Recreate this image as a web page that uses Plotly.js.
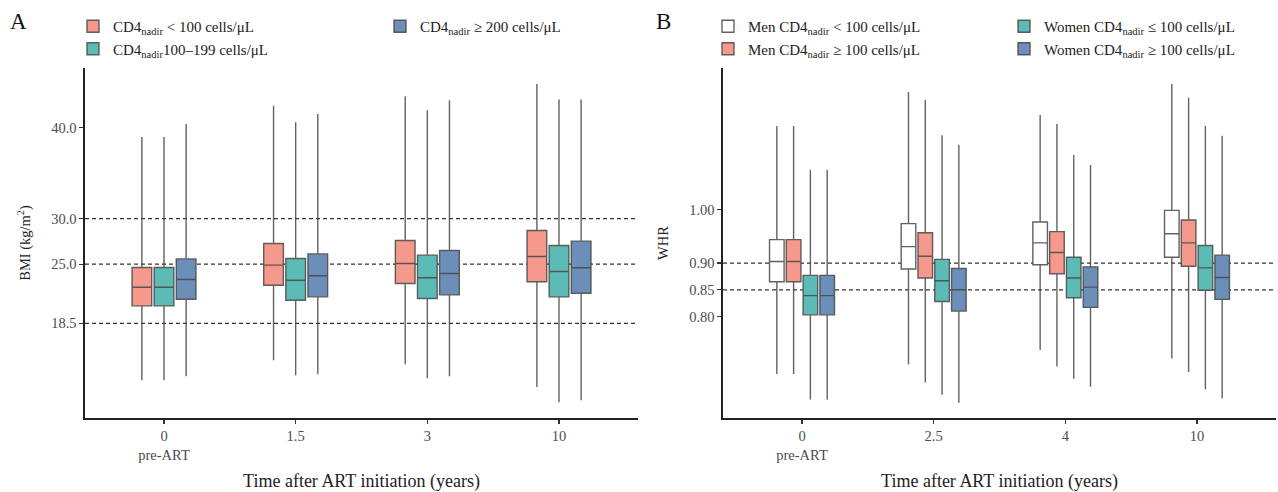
<!DOCTYPE html>
<html>
<head>
<meta charset="utf-8">
<script src="https://cdn.plot.ly/plotly-3.0.1.min.js"></script>
<style>
html,body{margin:0;padding:0;background:#fff;}
#wrap{position:relative;width:1278px;height:492px;}
.panel{position:absolute;left:0;top:0;width:1278px;height:492px;}
</style>
</head>
<body>
<div id="wrap">
  <div id="panelA" class="panel"></div>
  <div id="panelB" class="panel"></div>
</div>
<script>
// ---------- Data ----------
// Panel A: BMI by time after ART initiation
const timesA = ['0', '1.5', '3', '10'];
const tickTextA = ['0<br>pre-ART', '1.5', '3', '10'];
const bmiTicks = [18.5, 25, 30, 40];
const bmiRefLines = [18.5, 25, 30];

const bmiLt100 = { lo: [12.25, 14.45, 14.0, 11.5], q1: [20.42, 22.69, 22.88, 23.06], med: [22.47, 24.89, 25.07, 25.84], q3: [24.64, 27.27, 27.6, 28.7], hi: [38.96, 42.4, 43.46, 44.8] };
const bmi100to199 = { lo: [12.25, 12.8, 12.47, 9.84], q1: [20.42, 21.04, 21.23, 21.41], med: [22.47, 23.24, 23.5, 24.2], q3: [24.64, 25.62, 25.99, 27.05], hi: [38.96, 40.6, 41.9, 43.1] };
const bmiGe200 = { lo: [12.7, 12.9, 12.7, 10.05], q1: [21.15, 21.41, 21.63, 21.81], med: [23.32, 23.72, 23.98, 24.6], q3: [25.58, 26.13, 26.5, 27.53], hi: [40.4, 41.5, 43.0, 43.1] };

// Panel B: WHR by time after ART initiation
const timesB = ['0', '2.5', '4', '10'];
const tickTextB = ['0<br>pre-ART', '2.5', '4', '10'];
const whrTicks = [0.80, 0.85, 0.90, 1.00];
const whrRefLines = [0.85, 0.90];

const whrMenLt100 = { lo: [0.692, 0.71, 0.737, 0.721], q1: [0.865, 0.889, 0.897, 0.911], med: [0.903, 0.931, 0.938, 0.955], q3: [0.944, 0.974, 0.977, 0.999], hi: [1.157, 1.221, 1.178, 1.236] };
const whrMenGe100 = { lo: [0.692, 0.676, 0.706, 0.696], q1: [0.865, 0.872, 0.880, 0.894], med: [0.903, 0.913, 0.920, 0.938], q3: [0.944, 0.957, 0.959, 0.981], hi: [1.157, 1.206, 1.161, 1.21] };
const whrWomenLe100 = { lo: [0.644, 0.653, 0.683, 0.663], q1: [0.803, 0.828, 0.835, 0.849], med: [0.839, 0.867, 0.872, 0.891], q3: [0.877, 0.907, 0.911, 0.933], hi: [1.075, 1.14, 1.103, 1.157] };
const whrWomenGe100 = { lo: [0.644, 0.638, 0.668, 0.646], q1: [0.803, 0.810, 0.817, 0.832], med: [0.839, 0.850, 0.855, 0.873], q3: [0.877, 0.890, 0.893, 0.915], hi: [1.075, 1.122, 1.084, 1.139] };

// ---------- Styling ----------
const SERIF = '"Liberation Serif", "DejaVu Serif", serif';
const SALMON = '#F4998C';
const TEAL = '#5DBBB6';
const BLUE = '#6C8FBA';
const WHITE = '#FFFFFF';
const LINE = 'rgba(70,70,70,0.85)';

function boxTrace(x, s, name, fill, legend, rank) {
  return {
    type: 'box',
    x: x,
    q1: s.q1, median: s.med, q3: s.q3,
    lowerfence: s.lo, upperfence: s.hi,
    name: name,
    fillcolor: fill,
    line: { color: LINE, width: 1.4 },
    whiskerwidth: 0,
    boxpoints: false,
    hoverinfo: 'skip',
    legend: legend,
    legendrank: rank,
    showlegend: true
  };
}

const nadir = 'CD4<sub>nadir</sub>';
const tracesA = [
  boxTrace(timesA, bmiLt100, nadir + ' &lt; 100 cells/μL', SALMON, 'legend', 1),
  boxTrace(timesA, bmi100to199, nadir + '100–199 cells/μL', TEAL, 'legend', 2),
  boxTrace(timesA, bmiGe200, nadir + ' ≥ 200 cells/μL', BLUE, 'legend2', 1)
];
const tracesB = [
  boxTrace(timesB, whrMenLt100, 'Men ' + nadir + ' &lt; 100 cells/μL', WHITE, 'legend', 1),
  boxTrace(timesB, whrMenGe100, 'Men ' + nadir + ' ≥ 100 cells/μL', SALMON, 'legend', 2),
  boxTrace(timesB, whrWomenLe100, 'Women ' + nadir + ' ≤ 100 cells/μL', TEAL, 'legend2', 1),
  boxTrace(timesB, whrWomenGe100, 'Women ' + nadir + ' ≥ 100 cells/μL', BLUE, 'legend2', 2)
];

const W = 1278, H = 492;
const px = v => v / W;
const py = v => 1 - v / H;

const tickFont = { family: SERIF, size: 14.5, color: '#4d4d4d' };
const titleFont = { family: SERIF, size: 18, color: '#222' };

function xAxis(cats, texts, domain) {
  return {
    type: 'category',
    domain: domain,
    range: [-0.6, cats.length - 0.4],
    tickmode: 'array',
    tickvals: cats,
    ticktext: texts,
    ticks: 'outside', ticklen: 4, tickwidth: 1.3, tickcolor: '#333',
    showline: true, linecolor: '#222', linewidth: 1.6,
    showgrid: false, zeroline: false,
    tickfont: tickFont,
    title: { text: 'Time after ART initiation (years)', font: titleFont, standoff: 13 },
    fixedrange: true
  };
}
function yAxis(range, tickvals, fmt, title, domain) {
  return {
    domain: domain,
    range: range,
    tickmode: 'array',
    tickvals: tickvals,
    tickformat: fmt,
    ticks: 'outside', ticklen: 4, tickwidth: 1.3, tickcolor: '#333',
    showline: true, linecolor: '#222', linewidth: 1.6,
    showgrid: false, zeroline: false,
    tickfont: tickFont,
    title: { text: title, font: { family: SERIF, size: 14.5, color: '#222' }, standoff: 17 },
    fixedrange: true
  };
}

const yDom = [py(418), py(68)];
function refShapes(vals) {
  return vals.map(v => ({ type: 'line', xref: 'x domain', yref: 'y', x0: 0, x1: 1, y0: v, y1: v, line: { color: '#333', width: 1.2, dash: '4px,3px' }, layer: 'below' }));
}

const legendBase = {
  orientation: 'v', xanchor: 'left', yanchor: 'top',
  bgcolor: 'rgba(0,0,0,0)', borderwidth: 0,
  font: { family: SERIF, size: 15, color: '#222' },
  itemclick: false, itemdoubleclick: false,
  tracegroupgap: 0
};

function panelLabel(t, x) {
  return { text: t, xref: 'paper', yref: 'paper', x: px(x), y: py(22), xanchor: 'center', yanchor: 'middle', showarrow: false, font: { family: SERIF, size: 23, color: '#111' } };
}

const layoutA = {
  width: W, height: H,
  margin: { l: 0, r: 0, t: 0, b: 0 },
  paper_bgcolor: '#fff', plot_bgcolor: 'rgba(0,0,0,0)',
  boxmode: 'group', boxgap: 0.496, boxgroupgap: 0.11,
  showlegend: true,
  xaxis: xAxis(timesA, tickTextA, [px(85), px(638)]),
  yaxis: yAxis([8.1, 46.55], bmiTicks, '.1f', 'BMI (kg/m<sup>2</sup>)', yDom),
  shapes: refShapes(bmiRefLines),
  legend: Object.assign({}, legendBase, { x: px(73), y: py(10) }),
  legend2: Object.assign({}, legendBase, { x: px(380), y: py(10) }),
  annotations: [panelLabel('A', 18)]
};

const layoutB = {
  width: W, height: H,
  margin: { l: 0, r: 0, t: 0, b: 0 },
  paper_bgcolor: 'rgba(0,0,0,0)', plot_bgcolor: 'rgba(0,0,0,0)',
  boxmode: 'group', boxgap: 0.49, boxgroupgap: 0.13,
  showlegend: true,
  xaxis: xAxis(timesB, tickTextB, [px(723), px(1276)]),
  yaxis: yAxis([0.6095, 1.266], whrTicks, '.2f', 'WHR', yDom),
  shapes: refShapes(whrRefLines),
  legend: Object.assign({}, legendBase, { x: px(708), y: py(10) }),
  legend2: Object.assign({}, legendBase, { x: px(1004), y: py(10) }),
  annotations: [panelLabel('B', 663)]
};

const cfg = { displayModeBar: false, staticPlot: true };
Plotly.newPlot('panelA', tracesA, layoutA, cfg);
Plotly.newPlot('panelB', tracesB, layoutB, cfg);
</script>
</body>
</html>
